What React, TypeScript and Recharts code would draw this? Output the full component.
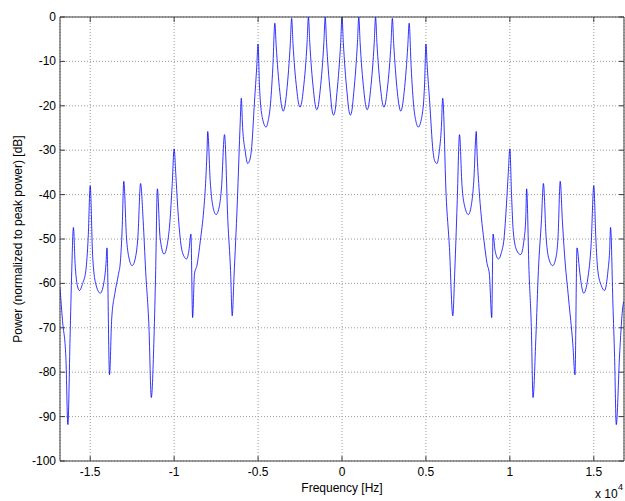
import { LineChart, Line, XAxis, YAxis, CartesianGrid } from "recharts";

// Spectrum: frequency (Hz) vs power normalised to peak (dB).
// Outer left lobe region, -16.8 kHz .. -6 kHz
const FREQ_LEFT_HZ = [
  -16800, -16650, -16450, -16330, -16200, -16100, -16000, -15900, -15780, -15640,
  -15450, -15260, -15120, -15000, -14860, -14670, -14400, -14200, -14060, -14000,
  -13850, -13720, -13520, -13320, -13200, -13100, -13000, -12840, -12700, -12500,
  -12300, -12160, -12000, -11845, -11700, -11500, -11360, -11200, -11100, -11000,
  -10840, -10600, -10400, -10250, -10120, -10000, -9900, -9800, -9600, -9400,
  -9260, -9120, -9000, -8900, -8790, -8640, -8440, -8240, -8140, -8040,
  -8000, -7850, -7700, -7500, -7300, -7180, -7000, -6800, -6640, -6540,
  -6435, -6240, -6060, -6000,
];
const POWER_LEFT_DB = [
  -60.9, -68.4, -76.7, -91.8, -72.2, -57.1, -47.4, -55.6, -60.2, -61.6,
  -60.0, -57.1, -49.6, -38.0, -53.4, -60.1, -62.2, -60.1, -55.6, -52.0,
  -80.6, -68.0, -62.0, -58.0, -55.0, -48.0, -37.0, -49.6, -54.1, -56.0,
  -54.1, -49.6, -37.5, -45.9, -57.0, -69.9, -85.7, -72.2, -57.1, -38.7,
  -49.6, -53.4, -51.0, -46.0, -38.0, -29.7, -35.5, -42.1, -51.1, -54.0,
  -54.5, -52.6, -48.9, -67.7, -57.9, -55.9, -50.4, -43.6, -38.4, -30.1,
  -25.8, -37.0, -42.5, -44.5, -42.5, -38.5, -26.5, -45.9, -57.1, -67.3,
  -58.6, -42.1, -23.4, -18.3,
];

// Main lobe, -6 kHz .. 6 kHz (exclusive)
const FREQ_CENTER_HZ = [
  -5920, -5770, -5620, -5500, -5400, -5210, -5080, -5000, -4920, -4750,
  -4520, -4400, -4280, -4120, -4000, -3920, -3820, -3700, -3600, -3500,
  -3400, -3300, -3180, -3080, -3000, -2920, -2820, -2700, -2600, -2500,
  -2400, -2300, -2180, -2080, -2000, -1920, -1820, -1700, -1600, -1500,
  -1400, -1300, -1180, -1080, -1000, -920, -820, -700, -600, -500,
  -400, -300, -180, -80, 0, 80, 180, 300, 400, 500,
  600, 700, 820, 920, 1000, 1080, 1180, 1300, 1400, 1500,
  1600, 1700, 1820, 1920, 2000, 2080, 2180, 2300, 2400, 2500,
  2600, 2700, 2820, 2920, 3000, 3080, 3180, 3300, 3400, 3500,
  3600, 3700, 3820, 3920, 4000, 4120, 4280, 4400, 4540, 4750,
  4920, 5000, 5080, 5220, 5420, 5520, 5660, 5800, 5920,
];
const POWER_CENTER_DB = [
  -24.9, -30.1, -33.0, -32.3, -30.1, -18.9, -11.3, -6.1, -15.1, -22.6,
  -24.8, -23.4, -20.4, -11.3, -1.4, -6.5, -12.0, -17.0, -20.0, -21.2,
  -20.0, -17.0, -11.8, -6.0, -0.3, -6.0, -11.5, -16.2, -19.2, -20.3,
  -19.2, -16.2, -11.5, -5.8, 0, -5.8, -11.5, -16.5, -19.7, -20.9,
  -19.7, -16.5, -11.5, -5.8, 0, -5.8, -11.7, -17.0, -20.8, -22.1,
  -20.8, -17.0, -11.7, -5.8, 0, -5.8, -11.7, -17.0, -20.8, -22.1,
  -20.8, -17.0, -11.7, -5.8, 0, -5.8, -11.5, -16.5, -19.7, -20.9,
  -19.7, -16.5, -11.5, -5.8, 0, -5.8, -11.5, -16.2, -19.2, -20.3,
  -19.2, -16.2, -11.5, -6.0, -0.3, -6.0, -11.8, -17.0, -20.0, -21.2,
  -20.0, -17.0, -12.0, -6.5, -1.4, -11.3, -20.4, -23.4, -24.8, -22.6,
  -15.1, -6.1, -11.3, -18.9, -30.1, -32.4, -33.0, -30.1, -24.9,
];

// Outer right lobe region, 6 kHz .. 16.8 kHz
const FREQ_RIGHT_HZ = [
  6000, 6200, 6400, 6600, 6720, 6860, 7000, 7150, 7300, 7530,
  7700, 7850, 8000, 8040, 8160, 8300, 8460, 8640, 8780, 8920,
  9000, 9120, 9320, 9500, 9650, 9800, 9900, 10000, 10100, 10200,
  10400, 10640, 10850, 10950, 11000, 11140, 11280, 11380, 11550, 11700,
  11880, 12000, 12160, 12300, 12550, 12750, 12870, 13000, 13130, 13256,
  13500, 13750, 13880, 14000, 14150, 14250, 14400, 14640, 14845, 15000,
  15120, 15240, 15450, 15640, 15850, 15940, 16000, 16140, 16240, 16340,
  16540, 16740, 16800,
];
const POWER_RIGHT_DB = [
  -18.3, -39.9, -51.9, -67.3, -57.1, -42.1, -26.5, -38.0, -42.5, -44.5,
  -42.5, -37.0, -25.8, -30.1, -38.4, -45.0, -50.4, -55.5, -57.9, -67.7,
  -48.9, -52.6, -54.5, -53.0, -50.0, -42.1, -35.5, -29.7, -40.0, -48.1,
  -52.5, -53.5, -50.0, -45.0, -38.7, -57.1, -69.9, -85.7, -72.2, -57.1,
  -45.9, -37.5, -49.6, -54.1, -56.0, -54.1, -49.6, -37.0, -46.0, -53.4,
  -63.5, -73.6, -80.6, -52.0, -57.0, -60.0, -62.2, -59.0, -51.0, -38.0,
  -49.6, -57.1, -60.5, -61.6, -57.0, -53.0, -47.4, -64.6, -76.7, -91.8,
  -75.9, -65.0, -64.0,
];

const X_TICKS = [-15000, -10000, -5000, 0, 5000, 10000, 15000];
const X_TICK_LABELS = ["-1.5", "-1", "-0.5", "0", "0.5", "1", "1.5"];
const Y_TICKS = [-100, -90, -80, -70, -60, -50, -40, -30, -20, -10, 0];

const DATA = [
  ...FREQ_LEFT_HZ.map((f, i) => ({ f, p: POWER_LEFT_DB[i] })),
  ...FREQ_CENTER_HZ.map((f, i) => ({ f, p: POWER_CENTER_DB[i] })),
  ...FREQ_RIGHT_HZ.map((f, i) => ({ f, p: POWER_RIGHT_DB[i] })),
];

const FONT = "'Liberation Sans', Arial, Helvetica, sans-serif";
const AXIS = "#3c3c3c";
const TICK_LEN = 5;

function BottomTick({ x, y, payload }: any) {
  const i = X_TICKS.indexOf(payload.value);
  return (
    <g>
      <line x1={x} y1={y} x2={x} y2={y - TICK_LEN} stroke={AXIS} />
      <text x={x} y={y + 15} textAnchor="middle" fontSize={12} fontFamily={FONT} fill="#000">
        {X_TICK_LABELS[i]}
      </text>
    </g>
  );
}

function TopTick({ x, y }: any) {
  return <line x1={x} y1={y} x2={x} y2={y + TICK_LEN} stroke={AXIS} />;
}

function LeftTick({ x, y, payload }: any) {
  return (
    <g>
      <line x1={x} y1={y} x2={x + TICK_LEN} y2={y} stroke={AXIS} />
      <text x={x - 4} y={y + 4} textAnchor="end" fontSize={12} fontFamily={FONT} fill="#000">
        {payload.value}
      </text>
    </g>
  );
}

function RightTick({ x, y }: any) {
  return <line x1={x} y1={y} x2={x - TICK_LEN} y2={y} stroke={AXIS} />;
}

function XLabels({ viewBox }: any) {
  const { x, y, width } = viewBox;
  return (
    <g fontFamily={FONT} fill="#000">
      <text x={x + width / 2} y={y + 31} textAnchor="middle" fontSize={12}>
        Frequency [Hz]
      </text>
      <text x={x + width - 29} y={y + 37} fontSize={12}>
        x 10
      </text>
      <text x={x + width - 6} y={y + 29} fontSize={9}>
        4
      </text>
    </g>
  );
}

function YLabel({ viewBox }: any) {
  const { x, y, height } = viewBox;
  const cx = x + 22;
  const cy = y + height / 2;
  return (
    <text
      x={cx}
      y={cy}
      transform={`rotate(-90 ${cx} ${cy})`}
      textAnchor="middle"
      fontSize={12}
      fontFamily={FONT}
      fill="#000"
    >
      Power (normalized to peak power) [dB]
    </text>
  );
}

export default function App() {
  return (
    <div style={{ position: "absolute", left: 0, top: 0, background: "#fff" }}>
      <LineChart width={625} height={501} data={DATA} margin={{ top: 0, right: 0, bottom: 0, left: 0 }}>
        <CartesianGrid stroke="#9a9a9a" strokeDasharray="1 2" />
        <XAxis
          dataKey="f"
          type="number"
          domain={[-16800, 16800]}
          allowDataOverflow
          ticks={X_TICKS}
          interval={0}
          height={40}
          tickSize={0}
          tickMargin={0}
          tickLine={false}
          axisLine={{ stroke: AXIS }}
          tick={<BottomTick />}
          label={<XLabels />}
        />
        <XAxis
          xAxisId="top"
          orientation="top"
          dataKey="f"
          type="number"
          domain={[-16800, 16800]}
          allowDataOverflow
          ticks={X_TICKS}
          interval={0}
          height={17}
          tickSize={0}
          tickMargin={0}
          tickLine={false}
          axisLine={{ stroke: AXIS }}
          tick={<TopTick />}
        />
        <YAxis
          type="number"
          domain={[-100, 0]}
          allowDataOverflow
          ticks={Y_TICKS}
          interval={0}
          width={60}
          tickSize={0}
          tickMargin={0}
          tickLine={false}
          axisLine={{ stroke: AXIS }}
          tick={<LeftTick />}
          label={<YLabel />}
        />
        <YAxis
          yAxisId="right"
          orientation="right"
          type="number"
          domain={[-100, 0]}
          allowDataOverflow
          ticks={Y_TICKS}
          interval={0}
          width={1}
          tickSize={0}
          tickMargin={0}
          tickLine={false}
          axisLine={{ stroke: AXIS }}
          tick={<RightTick />}
        />
        <Line
          dataKey="p"
          type="monotone"
          stroke="#0000ff"
          strokeWidth={0.8}
          dot={false}
          activeDot={false}
          isAnimationActive={false}
        />
      </LineChart>
    </div>
  );
}
